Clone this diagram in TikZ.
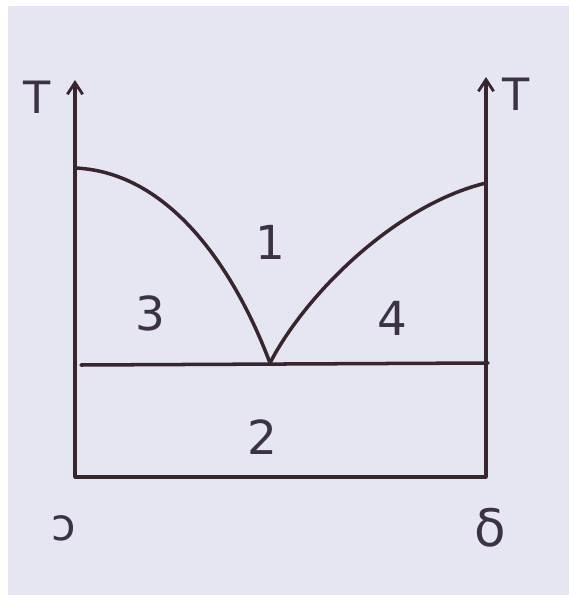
\documentclass[tikz,border=0pt]{standalone}
\usepackage{fontspec}
\setmainfont{DejaVu Sans}
\usetikzlibrary{arrows.meta, positioning}
\definecolor{paper}{RGB}{230,230,242}
\definecolor{ink}{RGB}{55,38,46}
\definecolor{pencil}{RGB}{60,50,70}
\tikzset{
  %% ---- lines ----
  phaseline/.style = {draw=ink, line width=3pt, line cap=round},
  axis/.style      = {draw=ink, line width=3pt,
                      -{Straight Barb[length=10pt, width=13pt, line width=2.4pt]}},
  %% ---- labels ----
  region/.style    = {text=pencil, font=\fontsize{40}{42}\selectfont, inner sep=0pt},
  axlabel/.style   = {text=pencil, font=\fontsize{38}{40}\selectfont, inner sep=0pt},
}
\begin{document}
\begin{tikzpicture}[x=0.03cm, y=-0.03cm]
\useasboundingbox (0,0) rectangle (569,595);
\fill[white] (0,0) rectangle (569,595);
\fill[paper] (8,6) rectangle (569,595);
% corners of the diagram
\coordinate (o)  at (75,477);
\coordinate (r)  at (486,477);
\coordinate (tl) at (75,80);
\coordinate (tr) at (486,77);
\coordinate (la) at (75,168);
\coordinate (ra) at (486,183);
\coordinate (e)  at (270,363);
\coordinate (el) at (81,365);
\coordinate (er) at (488,363);
% axes and base
\draw[axis] (o) -- (tl);
\draw[axis] (r) -- (tr);
\draw[phaseline] (o) -- (r);
\draw[phaseline] (el) -- (er);
% liquidus curves
\draw[phaseline] (la) .. controls (170,172) and (235,270) .. (e);
\draw[phaseline] (e) .. controls (305,295) and (395,205) .. (ra);
% labels
\node[axlabel] (tleft)  at (37,97)  {T};
\node[axlabel] (tright) at (516,94) {T};
\node[region]  (r1) at (270,242) {1};
\node[region]  (r3) at (150,313) {3};
\node[region]  (r4) at (392,318) {4};
\node[region]  (r2) at (262,437) {2};
\node[axlabel] (c0) at (64,528) {ɔ};
\node[axlabel, font=\fontsize{44}{46}\selectfont] (c1) at (490,528) {δ};
\end{tikzpicture}
\end{document}
